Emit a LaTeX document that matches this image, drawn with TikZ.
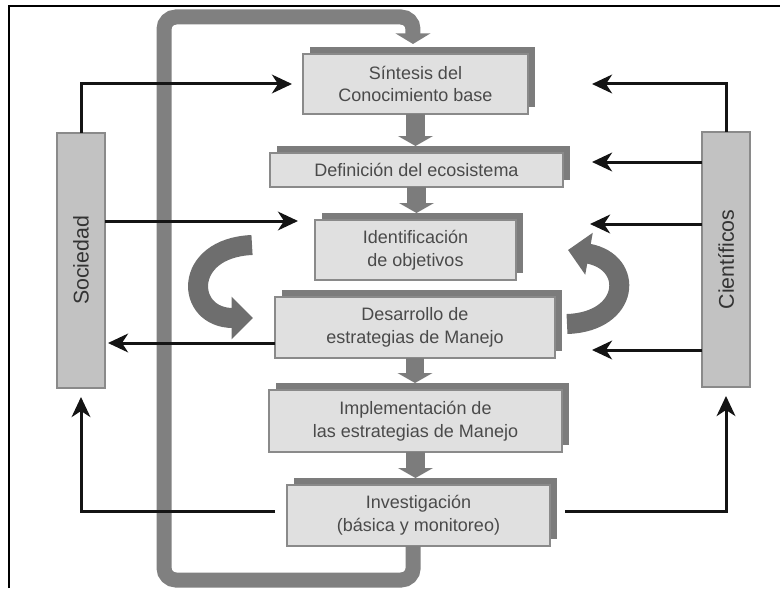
\documentclass[tikz,border=0pt]{standalone}
\usepackage{fontspec}
\setmainfont{Liberation Sans}
\usetikzlibrary{arrows.meta,shadows,calc}
\definecolor{boxfill}{HTML}{E0E0E0}
\definecolor{boxline}{HTML}{8A8A8A}
\definecolor{shadowgray}{HTML}{7C7C7C}
\definecolor{sidefill}{HTML}{C2C2C2}
\definecolor{loopgray}{HTML}{808080}
\definecolor{txtgray}{HTML}{4A4A4A}
\definecolor{curvegray}{HTML}{6E6E6E}
\begin{document}
\begin{tikzpicture}[x=0.75pt,y=-0.75pt,
  stepbox/.style={draw=boxline, line width=1.1pt, fill=boxfill, inner sep=0pt, outer sep=0pt,
    align=center, text=txtgray, font=\fontsize{13.5}{17}\selectfont,
    drop shadow={shadow xshift=5.25pt, shadow yshift=5.25pt, fill=shadowgray, opacity=1}},
  sidebox/.style={draw=boxline, line width=1.1pt, fill=sidefill, inner sep=0pt, outer sep=0pt,
    minimum width=36pt, minimum height=191.25pt},
  sidelabel/.style={rotate=90, text=black!80, font=\fontsize{16}{19}\selectfont},
  conn/.style={draw=black!92, line width=2.25pt, -{Stealth[length=15pt,width=14pt,inset=4.5pt]}},
  flow/.style={draw=shadowgray, line width=14pt, -{Triangle[length=7.5pt,width=26pt]}},
  loopline/.style={draw=loopgray, line width=11.25pt, rounded corners=9pt, -{Triangle[length=8pt,width=26pt]}},
  curvearrow/.style={draw=curvegray, line width=15pt, -{Triangle[length=16pt,width=31pt]}}
]
\useasboundingbox (0,0) rectangle (780,588);
% frame
\draw[line width=1.2pt] (9,588) -- (9,6) -- (780,6);

% helper coordinates
\coordinate (lt) at (164,17);
\coordinate (h162) at (0,162);
\coordinate (h221) at (0,221);
\coordinate (h224) at (0,224);
\coordinate (h343) at (0,343);
\coordinate (h350) at (0,350);
\coordinate (h511) at (0,511);

% boxes
\node[stepbox, minimum width=168.75pt, minimum height=45pt] (b1) at (415.5,84) {Síntesis del\\Conocimiento base};
\node[stepbox, minimum width=219.75pt, minimum height=25.5pt] (b2) at (416.5,170) {Definición del ecosistema};
\node[stepbox, minimum width=150.75pt, minimum height=45pt] (b3) at (415.5,250) {Identificación\\de objetivos};
\node[stepbox, minimum width=210pt, minimum height=45.75pt] (b4) at (415,327.5) {Desarrollo de\\estrategias de Manejo};
\node[stepbox, minimum width=219.75pt, minimum height=46.5pt] (b5) at (415.5,421) {Implementación de\\las estrategias de Manejo};
\node[stepbox, minimum width=197.25pt, minimum height=45.75pt] (b6) at (418.5,515.5) {Investigación\\(básica y monitoreo)};

% big feedback loop
\begin{scope}[on background layer/.try]
\end{scope}
\draw[loopline] ([xshift=-4pt]b6.south) -- ++(0,34) -| (lt) -| ([xshift=-1.9pt,yshift=7.5pt]b1.north);

% flow arrows between boxes
\draw[flow] (b1.south) -- ($(b1.south |- b2.north)+(0,-7)$);
\draw[flow] (b2.south) -- ($(b2.south |- b3.north)+(0,-7)$);
\draw[flow] (b4.south) -- ($(b4.south |- b5.north)+(0,-7)$);
\draw[flow] (b5.south) -- ($(b5.south |- b6.north)+(0,-7)$);

% side boxes
\node[sidebox] (soc) at (81,260.5) {};
\node[sidelabel] (soclbl) at (soc.center) {Sociedad};
\node[sidebox] (cie) at (726,259.5) {};
\node[sidelabel] (cielbl) at (cie.center) {Científicos};

% curved arrows
\draw[curvearrow] (252,245) .. controls (182,248) and (185,318) .. (253,318);
\draw[curvearrow] (567,324) .. controls (630,322) and (635,262) .. (568,250);

% connectors
\draw[conn, shorten >=8.25pt] (soc.north) |- (b1.west);
\draw[conn, shorten >=12.75pt] (soc.east |- h221) -- (b3.west |- h221);
\draw[conn, shorten >=2.25pt] (b4.west |- h343) -- (soc.east |- h343);
\draw[conn, shorten <=9pt, shorten >=6.75pt] (b6.west |- h511) -| (soc.south);
\draw[conn, shorten <=11.25pt, shorten >=6.75pt] (b6.east |- h511) -| (cie.south);
\draw[conn, shorten >=48pt] (cie.north) |- (b1.east);
\draw[conn, shorten >=21.75pt] (cie.west |- h162) -- (b2.east |- h162);
\draw[conn, shorten >=55.5pt] (cie.west |- h224) -- (b3.east |- h224);
\draw[conn, shorten >=27.75pt] (cie.west |- h350) -- (b4.east |- h350);
\end{tikzpicture}
\end{document}
